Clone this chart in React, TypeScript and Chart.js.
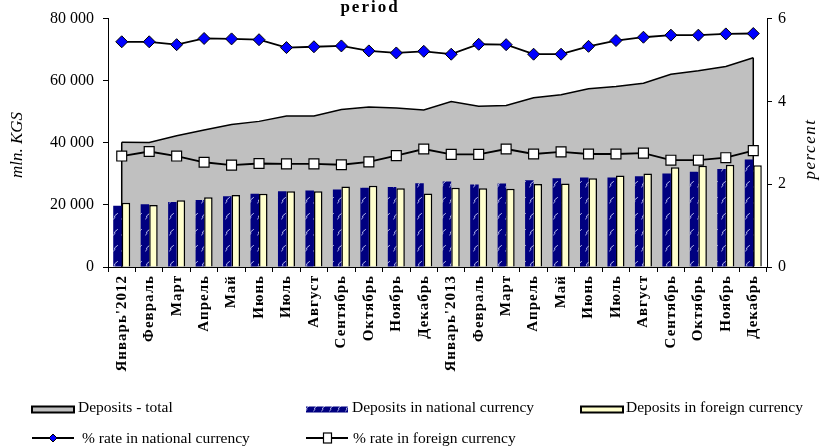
import React, { useEffect, useRef } from "react";
import { Chart, registerables } from "chart.js";

Chart.register(...registerables);

const months: string[] = [
  "Январь'2012", "Февраль", "Март", "Апрель", "Май", "Июнь", "Июль", "Август",
  "Сентябрь", "Октябрь", "Ноябрь", "Декабрь",
  "Январь'2013", "Февраль", "Март", "Апрель", "Май", "Июнь", "Июль", "Август",
  "Сентябрь", "Октябрь", "Ноябрь", "Декабрь",
];

// mln. KGS
const depositsTotal: number[] = [
  40200, 40100, 42300, 44100, 45900, 46900, 48600, 48600, 50700, 51500, 51200, 50600,
  53300, 51800, 52000, 54500, 55500, 57400, 58100, 59200, 62100, 63200, 64600, 67400,
];
const depositsNational: number[] = [
  19700, 20200, 20900, 21600, 22800, 23600, 24400, 24600, 25000, 25500, 25800, 27000,
  27500, 26600, 26900, 27900, 28600, 28800, 28800, 29200, 30100, 30700, 31600, 34600,
];
const depositsForeign: number[] = [
  20700, 20000, 21500, 22500, 23200, 23600, 24400, 24400, 25900, 26200, 25400, 23700,
  25500, 25400, 25200, 26700, 26900, 28600, 29500, 30100, 32100, 32600, 32900, 32800,
];

// percent
const rateNational: number[] = [
  5.44, 5.44, 5.37, 5.52, 5.51, 5.49, 5.30, 5.32, 5.34, 5.22, 5.17, 5.21,
  5.14, 5.38, 5.37, 5.14, 5.14, 5.33, 5.47, 5.55, 5.60, 5.60, 5.63, 5.64,
];
const rateForeign: number[] = [
  2.68, 2.79, 2.68, 2.53, 2.46, 2.50, 2.49, 2.49, 2.47, 2.54, 2.69, 2.85,
  2.72, 2.72, 2.85, 2.73, 2.78, 2.73, 2.73, 2.75, 2.58, 2.58, 2.64, 2.81,
];

const titleText = "period";
const leftAxisTitle = "mln. KGS";
const rightAxisTitle = "percent";
const legendLabels = {
  total: "Deposits - total",
  national: "Deposits in national currency",
  foreign: "Deposits in foreign currency",
  rateNational: "% rate in national currency",
  rateForeign: "% rate in foreign currency",
};

const SERIF = '"Liberation Serif", "Times New Roman", serif';
const NAVY = "#000080";
const GREY = "#C0C0C0";
const CREAM = "#FFFFCC";

function thousands(v: number): string {
  return String(v).replace(/\B(?=(\d{3})+(?!\d))/g, " ");
}

// Navy fill with small light squiggles, used for national-currency bars
function makeNavyPattern(ctx: CanvasRenderingContext2D): CanvasPattern | string {
  const tile = document.createElement("canvas");
  tile.width = 8;
  tile.height = 16;
  const g = tile.getContext("2d");
  if (!g) return NAVY;
  g.fillStyle = NAVY;
  g.fillRect(0, 0, 8, 16);
  g.strokeStyle = "rgba(215,220,255,0.85)";
  g.lineWidth = 1;
  g.lineCap = "round";
  g.beginPath();
  g.moveTo(1.5, 11);
  g.lineTo(3, 9.5);
  g.lineTo(2.5, 8);
  g.lineTo(5.5, 5.5);
  g.stroke();
  return ctx.createPattern(tile, "repeat") || NAVY;
}

export default function App() {
  const canvasRef = useRef<HTMLCanvasElement | null>(null);

  useEffect(() => {
    const canvas = canvasRef.current;
    if (!canvas) return;
    const ctx0 = canvas.getContext("2d");
    if (!ctx0) return;
    const navyPattern = makeNavyPattern(ctx0);

    // Closes the area shape with vertical edges down to zero
    const areaEdges = {
      id: "areaEdges",
      afterDatasetDraw(chart: any, args: any) {
        if (args.index !== 0) return;
        const pts = args.meta.data;
        if (!pts.length) return;
        const y0 = chart.scales.y.getPixelForValue(0);
        const c = chart.ctx;
        c.save();
        c.strokeStyle = "#000";
        c.lineWidth = 1.5;
        c.beginPath();
        for (const p of [pts[0], pts[pts.length - 1]]) {
          c.moveTo(p.x, p.y);
          c.lineTo(p.x, y0);
        }
        c.stroke();
        c.restore();
      },
    };

    // Wider glyph spacing for the rotated month labels (drawn after datasets)
    const labelSpacing = {
      id: "labelSpacing",
      afterDatasetsDraw(chart: any) {
        (chart.ctx as any).letterSpacing = "1px";
      },
      afterDraw(chart: any) {
        (chart.ctx as any).letterSpacing = "0px";
      },
    };

    // Title remnant, axis titles and the two-row legend
    const decorations = {
      id: "decorations",
      afterDraw(chart: any) {
        const c: CanvasRenderingContext2D = chart.ctx;
        c.save();
        (c as any).letterSpacing = "0px";
        c.fillStyle = "#000";

        // title
        (c as any).letterSpacing = "2px";
        c.font = `bold 17px ${SERIF}`;
        c.textAlign = "center";
        c.textBaseline = "alphabetic";
        c.fillText(titleText, 370, 12);
        (c as any).letterSpacing = "0px";

        // axis titles, both reading upwards
        const vertical = (text: string, x: number, y: number, spacing: string) => {
          c.save();
          (c as any).letterSpacing = spacing;
          c.translate(x, y);
          c.rotate(-Math.PI / 2);
          c.font = `italic 17px ${SERIF}`;
          c.textAlign = "center";
          c.textBaseline = "middle";
          c.fillText(text, 0, 0);
          c.restore();
        };
        vertical(leftAxisTitle, 18, 145, "0px");
        vertical(rightAxisTitle, 811, 149, "1.5px");

        // legend
        const ds = chart.data.datasets;
        c.font = `15.5px ${SERIF}`;
        c.textAlign = "left";
        c.textBaseline = "alphabetic";
        const row1 = 412;
        const row2 = 443;
        const swatch = (x: number, fill: any, stroke: string | null) => {
          c.fillStyle = fill;
          c.fillRect(x, 406.5, 42, 6);
          if (stroke) {
            c.strokeStyle = stroke;
            c.lineWidth = 2;
            c.strokeRect(x, 406.5, 42, 6);
          }
        };
        swatch(32, ds[0].backgroundColor, "#000");
        c.fillStyle = "#000";
        c.fillText(legendLabels.total, 78, row1);
        swatch(306, ds[1].backgroundColor, null);
        c.fillStyle = "#000";
        c.fillText(legendLabels.national, 352, row1);
        swatch(581, ds[2].backgroundColor, "#000");
        c.fillStyle = "#000";
        c.fillText(legendLabels.foreign, 626, row1);

        const ly = 438;
        c.strokeStyle = "#000";
        c.lineWidth = 2;
        c.beginPath();
        c.moveTo(32, ly);
        c.lineTo(74, ly);
        c.moveTo(306, ly);
        c.lineTo(348, ly);
        c.stroke();
        // diamond
        c.beginPath();
        c.moveTo(53, ly - 4);
        c.lineTo(57, ly);
        c.lineTo(53, ly + 4);
        c.lineTo(49, ly);
        c.closePath();
        c.fillStyle = "#0000FF";
        c.fill();
        c.lineWidth = 1;
        c.stroke();
        // square
        c.fillStyle = "#FFFFFF";
        c.fillRect(323.5, ly - 5, 8, 10);
        c.lineWidth = 1.2;
        c.strokeRect(323.5, ly - 5, 8, 10);

        c.fillStyle = "#000";
        c.fillText(legendLabels.rateNational, 82, row2);
        c.fillText(legendLabels.rateForeign, 353, row2);
        c.restore();
      },
    };

    const chart = new Chart(canvas, {
      type: "bar",
      data: {
        labels: months,
        datasets: [
          {
            type: "line",
            label: legendLabels.total,
            data: depositsTotal,
            yAxisID: "y",
            fill: "origin",
            backgroundColor: GREY,
            borderColor: "#000",
            borderWidth: 1.5,
            pointRadius: 0,
            tension: 0,
            order: 3,
          } as any,
          {
            type: "bar",
            label: legendLabels.national,
            data: depositsNational,
            yAxisID: "y",
            backgroundColor: navyPattern as any,
            borderWidth: 0,
            categoryPercentage: 0.62,
            barPercentage: 1,
            order: 2,
          },
          {
            type: "bar",
            label: legendLabels.foreign,
            data: depositsForeign,
            yAxisID: "y",
            backgroundColor: CREAM,
            borderColor: "#000",
            borderWidth: 1.5,
            categoryPercentage: 0.62,
            barPercentage: 1,
            order: 2,
          },
          {
            type: "line",
            label: legendLabels.rateNational,
            data: rateNational,
            yAxisID: "y1",
            borderColor: "#000",
            borderWidth: 1.8,
            pointStyle: "rectRot",
            pointRadius: 6,
            pointBackgroundColor: "#0000FF",
            pointBorderColor: "#000",
            pointBorderWidth: 1,
            tension: 0,
            fill: false,
            order: 1,
          } as any,
          {
            type: "line",
            label: legendLabels.rateForeign,
            data: rateForeign,
            yAxisID: "y1",
            borderColor: "#000",
            borderWidth: 1.8,
            pointStyle: "rect",
            pointRadius: 7,
            pointBackgroundColor: "#FFFFFF",
            pointBorderColor: "#000",
            pointBorderWidth: 1.2,
            tension: 0,
            fill: false,
            order: 1,
          } as any,
        ],
      },
      options: {
        animation: false,
        responsive: true,
        maintainAspectRatio: false,
        events: [],
        layout: { padding: { top: 14, left: 0, right: 0, bottom: 0 } },
        plugins: {
          legend: { display: false },
          tooltip: { enabled: false },
          title: { display: false },
        },
        scales: {
          x: {
            type: "category",
            offset: true,
            grid: {
              offset: true,
              drawOnChartArea: false,
              tickLength: 5,
              color: "#000",
              lineWidth: 1,
            },
            border: { color: "#000", width: 1, z: 1 },
            ticks: {
              autoSkip: false,
              maxRotation: 90,
              minRotation: 90,
              padding: 3,
              color: "#000",
              z: 1,
              font: { family: SERIF, size: 15, weight: "bold" },
            },
            afterFit(scale: any) {
              scale.height = 179;
            },
          },
          y: {
            position: "left",
            min: 0,
            max: 80000,
            grid: { drawOnChartArea: false, tickLength: 5, color: "#000" },
            border: { color: "#000", width: 1, z: 1 },
            ticks: {
              stepSize: 20000,
              padding: 9,
              color: "#000",
              font: { family: SERIF, size: 16 },
              callback: (v: any) => thousands(Number(v)),
            },
            afterFit(scale: any) {
              scale.width = 108;
            },
          },
          y1: {
            position: "right",
            min: 0,
            max: 6,
            grid: { drawOnChartArea: false, tickLength: 5, color: "#000" },
            border: { color: "#000", width: 1, z: 1 },
            ticks: {
              stepSize: 2,
              padding: 6,
              color: "#000",
              font: { family: SERIF, size: 16 },
            },
            afterFit(scale: any) {
              scale.width = 60;
            },
          },
        },
      },
      plugins: [areaEdges, labelSpacing, decorations],
    });

    return () => chart.destroy();
  }, []);

  return (
    <div
      style={{
        position: "fixed",
        left: 0,
        top: 0,
        width: 827,
        height: 446,
        background: "#fff",
      }}
    >
      <canvas ref={canvasRef} />
    </div>
  );
}
